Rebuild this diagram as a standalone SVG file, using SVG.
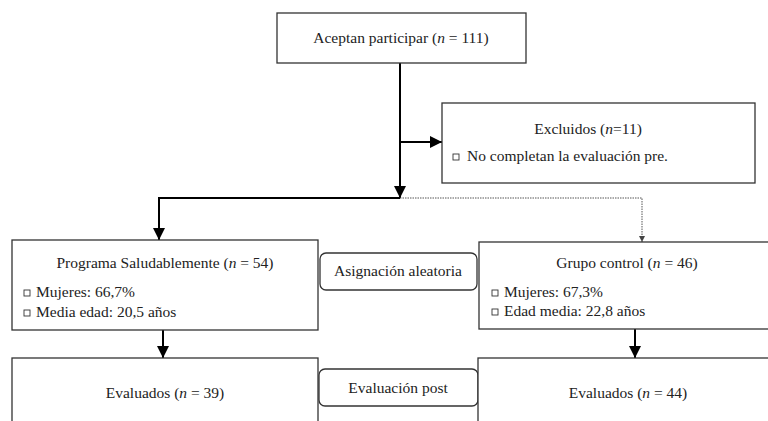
<svg xmlns="http://www.w3.org/2000/svg" width="768" height="421" viewBox="0 0 768 421" font-family="'Liberation Serif', 'DejaVu Serif', serif">
<defs>
<style>
.box{fill:#fff;stroke:#333;stroke-width:1.3}
.rbox{fill:#fff;stroke:#333;stroke-width:1.3}
.t{font-family:'Liberation Serif','DejaVu Serif',serif;font-size:15.5px;fill:#222}
.c{text-anchor:middle}
.thick{fill:none;stroke:#000;stroke-width:2}
.dot{fill:none;stroke:#555;stroke-width:1;stroke-dasharray:1.5 1}
.bul{fill:#fff;stroke:#333;stroke-width:0.9}
</style>
<marker id="ah" viewBox="0 0 10 10" refX="10" refY="5" markerWidth="6" markerHeight="6" orient="auto" markerUnits="strokeWidth">
<path d="M0,0 L10,5 L0,10 z" fill="#000"/>
</marker>
<marker id="ahs" viewBox="0 0 10 10" refX="10" refY="5" markerWidth="6" markerHeight="6" orient="auto" markerUnits="strokeWidth">
<path d="M0,0 L10,5 L0,10 z" fill="#444"/>
</marker>
</defs>
<rect width="768" height="421" fill="#fff"/>

<g id="connectors">
<line class="thick" x1="400" y1="63" x2="400" y2="198" marker-end="url(#ah)"/>
<line class="thick" x1="400" y1="142" x2="442" y2="142" marker-end="url(#ah)"/>
<polyline class="thick" points="400,198 159,198 159,240" marker-end="url(#ah)"/>
<polyline class="dot" points="400,198 642,198 642,242" marker-end="url(#ahs)"/>
<line class="thick" x1="163" y1="330" x2="163" y2="358" marker-end="url(#ah)"/>
<line class="thick" x1="635" y1="329" x2="635" y2="358" marker-end="url(#ah)"/>
</g>

<g id="aceptan">
<rect class="box" x="277" y="13" width="249" height="50"/>
<text class="t c" x="401" y="43">Aceptan participar (<tspan font-style="italic">n</tspan> = 111)</text>
</g>

<g id="excluidos">
<rect class="box" x="442" y="103" width="313" height="80"/>
<text class="t c" x="588" y="134">Excluidos (<tspan font-style="italic">n</tspan>=11)</text>
<rect class="bul" x="453" y="154" width="6" height="6"/>
<text class="t" x="467" y="161">No completan la evaluación pre.</text>
</g>

<g id="programa">
<rect class="box" x="12" y="240" width="306" height="90"/>
<text class="t c" x="165" y="268">Programa Saludablemente (<tspan font-style="italic">n</tspan> = 54)</text>
<rect class="bul" x="24" y="290" width="6" height="6"/>
<text class="t" x="36" y="297">Mujeres: 66,7%</text>
<rect class="bul" x="24" y="310" width="6" height="6"/>
<text class="t" x="36" y="317">Media edad: 20,5 años</text>
</g>

<g id="asignacion">
<rect class="rbox" x="320" y="253" width="157" height="37" rx="6"/>
<text class="t c" x="398" y="276">Asignación aleatoria</text>
</g>

<g id="control">
<rect class="box" x="479" y="242" width="300" height="87"/>
<text class="t c" x="627" y="268">Grupo control (<tspan font-style="italic">n</tspan> = 46)</text>
<rect class="bul" x="492" y="290" width="6" height="6"/>
<text class="t" x="504" y="297">Mujeres: 67,3%</text>
<rect class="bul" x="492" y="309" width="6" height="6"/>
<text class="t" x="504" y="316">Edad media: 22,8 años</text>
</g>

<g id="evaluados1">
<rect class="box" x="12" y="358" width="306" height="80"/>
<text class="t c" x="165" y="398">Evaluados (<tspan font-style="italic">n</tspan> = 39)</text>
</g>

<g id="evalpost">
<rect class="rbox" x="319" y="369" width="159" height="37" rx="6"/>
<text class="t c" x="398" y="393">Evaluación post</text>
</g>

<g id="evaluados2">
<rect class="box" x="478" y="358" width="300" height="80"/>
<text class="t c" x="628" y="398">Evaluados (<tspan font-style="italic">n</tspan> = 44)</text>
</g>
</svg>
